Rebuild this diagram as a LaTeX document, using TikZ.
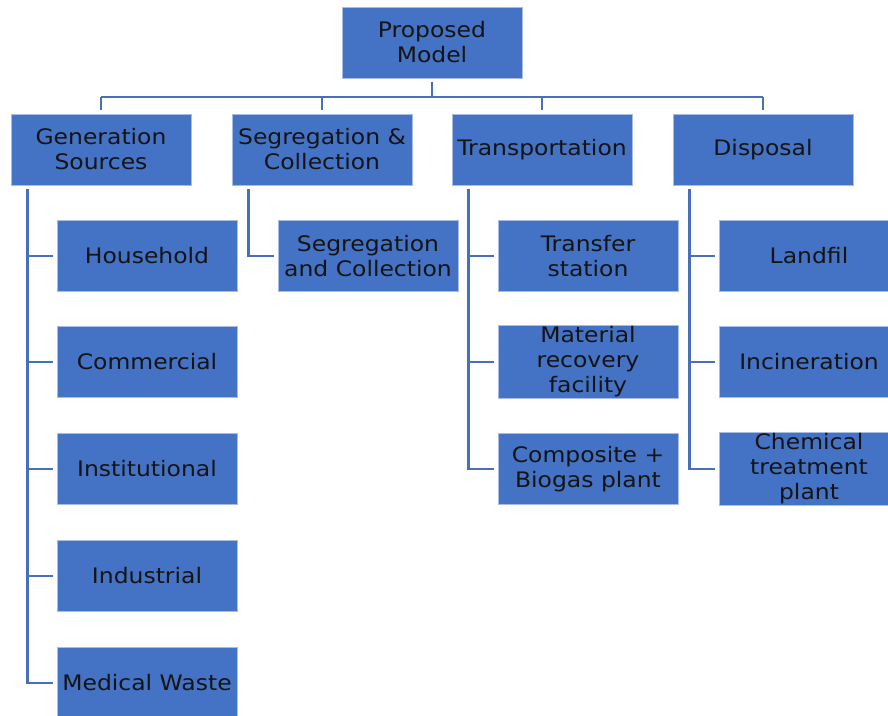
\documentclass[tikz,border=0pt]{standalone}
\usepackage{fontspec}
\setmainfont{DejaVu Sans}[FakeStretch=1.1]
\usepackage{tikz}
\usepackage{xcolor}
\usetikzlibrary{positioning,calc}

\definecolor{boxblue}{HTML}{4472C4}
\definecolor{boxedge}{HTML}{A8BDE4}
\definecolor{linkblue}{HTML}{4A6FBA}
\definecolor{inktext}{HTML}{141414}

\begin{document}
\begin{tikzpicture}[
  x=0.75pt, y=0.75pt,
  box/.style={draw=boxedge, line width=0.4pt, fill=boxblue, text=inktext,
    minimum width=135pt, minimum height=53.5pt, inner sep=1pt, align=center,
    font=\fontsize{16}{18.8}\selectfont},
  link/.style={draw=linkblue, line width=2.2pt},
  gap/.style={shorten <=2.5pt},
  gapend/.style={shorten >=3pt}
]
\useasboundingbox (0,0) rectangle (888,716);
\clip (0,0) rectangle (888,716);

% root and the four stages
\node[box] (root) at (432,673.5) {Proposed\\Model};
\node[box] (gen)   at (101,566.5) {Generation\\Sources};
\node[box] (seg)   at (322,566.5) {Segregation \&\\Collection};
\node[box] (trans) at (542,566.5) {Transportation};
\node[box] (disp)  at (763,566.5) {Disposal};
\coordinate (bus) at (432,619);

% generation sources
\node[box] (house) at (147,460) {Household};
\node[box] (comm)  at (147,354) {Commercial};
\node[box] (inst)  at (147,247) {Institutional};
\node[box] (indus) at (147,140) {Industrial};
\node[box] (med)   at (147,33)  {Medical Waste};

% segregation
\node[box] (segcol) at (368,460) {Segregation\\and Collection};

% transportation
\node[box] (transfer) at (588,460) {Transfer\\station};
\node[box] (mrf)      at (588,354) {Material\\recovery\\facility};
\node[box] (biogas)   at (588,247) {Composite +\\Biogas plant};

% disposal
\node[box] (landfil) at (809,460) {Landfil};
\node[box] (incin)   at (809,354) {Incineration};
\node[box] (chem)    at (809,247) {Chemical\\treatment\\plant};

% root to stages
\draw[link, gap] (root.south) -- (root.south |- bus);
\draw[link] (gen.north |- bus) -- (disp.north |- bus);
\foreach \s in {gen,seg,trans,disp}
  \draw[link, gapend] (\s.north |- bus) -- (\s.north);

% spines below each stage
\coordinate (gsp) at ([xshift=12.75pt]gen.south west);
\coordinate (ssp) at ([xshift=12.75pt]seg.south west);
\coordinate (tsp) at ([xshift=12.75pt]trans.south west);
\coordinate (dsp) at ([xshift=12.75pt]disp.south west);

\draw[link, gap, gapend] (gsp) |- (med.west);
\foreach \c in {house,comm,inst,indus}
  \draw[link, gapend] (gsp |- \c.west) -- (\c.west);

\draw[link, gap, gapend] (ssp) |- (segcol.west);

\draw[link, gap, gapend] (tsp) |- (biogas.west);
\foreach \c in {transfer,mrf}
  \draw[link, gapend] (tsp |- \c.west) -- (\c.west);

\draw[link, gap, gapend] (dsp) |- (chem.west);
\foreach \c in {landfil,incin}
  \draw[link, gapend] (dsp |- \c.west) -- (\c.west);
\end{tikzpicture}
\end{document}
